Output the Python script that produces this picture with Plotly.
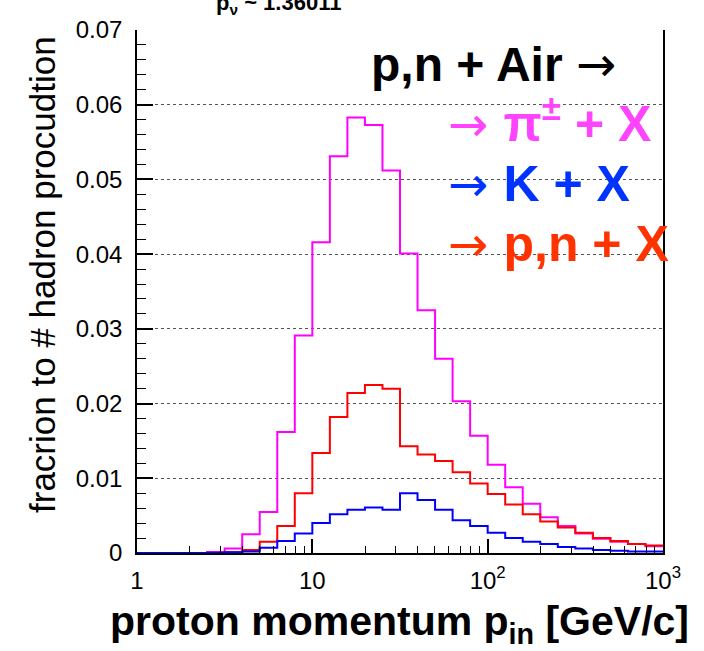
import numpy as np
import plotly.graph_objects as go

# ---------------- data ----------------
# 30 bins, 10 per decade, from 1 to 1000 GeV/c
n_bins = 30
bins_per_decade = 10
bin_edges = 10 ** (np.arange(n_bins + 1) / bins_per_decade)

pion = [0, 0, 0, 0, 0.00012, 0.0006, 0.0025, 0.0055, 0.0162, 0.0291,
        0.0416, 0.0531, 0.0583, 0.0573, 0.0512, 0.0401, 0.0325, 0.0260, 0.0203, 0.0157,
        0.0118, 0.0088, 0.0066, 0.0048, 0.0036, 0.0026, 0.0019, 0.0015, 0.0012, 0.0009]
nucleon = [0, 0, 0, 0, 0, 0.0001, 0.0004, 0.0015, 0.0036, 0.0080,
           0.0134, 0.0182, 0.0214, 0.0225, 0.0220, 0.0143, 0.0132, 0.0123, 0.0108, 0.0093,
           0.0079, 0.0065, 0.0052, 0.0042, 0.0034, 0.0027, 0.0020, 0.0016, 0.0012, 0.0010]
kaon = [0, 0, 0, 0, 0.00003, 0.0001, 0.0002, 0.0007, 0.0016, 0.0026,
        0.0040, 0.0052, 0.0058, 0.0061, 0.0058, 0.0080, 0.0071, 0.0058, 0.0044, 0.0036,
        0.0027, 0.0020, 0.0015, 0.0012, 0.0008, 0.0006, 0.0004, 0.0003, 0.0002, 0.0002]

x_tickvals = [1, 10, 100, 1000]
x_ticktext = ["1", "10", "10<sup>2</sup>", "10<sup>3</sup>"]
x_minor = [d * 10 ** e for e in range(3) for d in range(2, 10)]
y_tickvals = [0, 0.01, 0.02, 0.03, 0.04, 0.05, 0.06, 0.07]
y_ticktext = ["0", "0.01", "0.02", "0.03", "0.04", "0.05", "0.06", "0.07"]

series = [("pion", pion, "#ff00ff"), ("nucleon", nucleon, "#ff0000"), ("kaon", kaon, "#0000ff")]

FONT = "Liberation Sans, Arial, Helvetica, sans-serif"
ARROW = '<span style="font-family:DejaVu Sans;font-weight:normal;font-size:48px">→ </span>'
W, H = 704, 651
L, R, T, B = 137, 663, 30, 553


def px(xp):
    return (xp - L) / (R - L)


def py(yp):
    return (B - yp) / (B - T)


fig = go.Figure()
for name, vals, col in series:
    fig.add_trace(go.Scatter(
        x=bin_edges, y=list(vals) + [vals[-1]], mode="lines", name=name,
        line=dict(color=col, width=2, shape="hv"), showlegend=False, hoverinfo="skip"))

fig.update_layout(
    width=W, height=H,
    margin=dict(l=L, r=W - R, t=T, b=H - B),
    plot_bgcolor="white", paper_bgcolor="white",
    font=dict(family=FONT, color="black"),
    xaxis=dict(
        type="log", range=[0, 3], tickmode="array", tickvals=x_tickvals, ticktext=x_ticktext,
        ticks="inside", ticklen=14, tickwidth=1.5, tickcolor="black",
        minor=dict(tickmode="array", tickvals=x_minor, ticks="inside", ticklen=7,
                   tickwidth=1.2, tickcolor="black", showgrid=False),
        showgrid=False, zeroline=False, showline=True, linecolor="black", linewidth=1.5,
        tickfont=dict(size=24, family=FONT), ticklabelstandoff=5),
    yaxis=dict(
        range=[0, 0.07], tickmode="array", tickvals=y_tickvals, ticktext=y_ticktext,
        ticks="inside", ticklen=16, tickwidth=1.5, tickcolor="black",
        minor=dict(dtick=0.002, ticks="inside", ticklen=9, tickwidth=1.2,
                   tickcolor="black", showgrid=False),
        showgrid=True, gridcolor="#555555", griddash="dot", gridwidth=1,
        zeroline=False, showline=True, mirror=True, linecolor="black", linewidth=1.5,
        tickfont=dict(size=24, family=FONT), ticklabelstandoff=8),
)

ann = []
# top label (partially cut off)
ann.append(dict(text="<b>p<sub>ν</sub> ~ 1.36011</b>", x=px(216), y=py(-10),
                xanchor="left", yanchor="top", font=dict(size=22)))
# legend-like text
ann.append(dict(text="<b>p,n + Air</b> " + ARROW, x=px(371), y=py(81.7 + 10.2),
                xanchor="left", yanchor="bottom", font=dict(size=48, color="black")))
ann.append(dict(text=ARROW + "<b>π<sup>±</sup> + X</b>", x=px(448), y=py(141.7 + 10.6),
                xanchor="left", yanchor="bottom", font=dict(size=50, color="#ff44ff")))
ann.append(dict(text=ARROW + "<b>K + X</b>", x=px(448), y=py(201.7 + 10.6),
                xanchor="left", yanchor="bottom", font=dict(size=50, color="#0033ff")))
ann.append(dict(text=ARROW + "<b>p,n + X</b>", x=px(448), y=py(261.7 + 10.6),
                xanchor="left", yanchor="bottom", font=dict(size=50, color="#ff3300")))
# axis titles
ann.append(dict(text="<b>proton momentum p<sub>in</sub> [GeV/c]</b>", x=px(689), y=py(642 + 8),
                xanchor="right", yanchor="bottom", font=dict(size=41)))
ann.append(dict(text="fracrion to # hadron procudtion", x=px(42), y=py(275), textangle=-90,
                xanchor="center", yanchor="middle", font=dict(size=35)))

for a in ann:
    a.update(xref="paper", yref="paper", showarrow=False, borderpad=0, borderwidth=0)
    a["font"].setdefault("family", FONT)
fig.update_layout(annotations=ann)

fig.write_html("out.html")
